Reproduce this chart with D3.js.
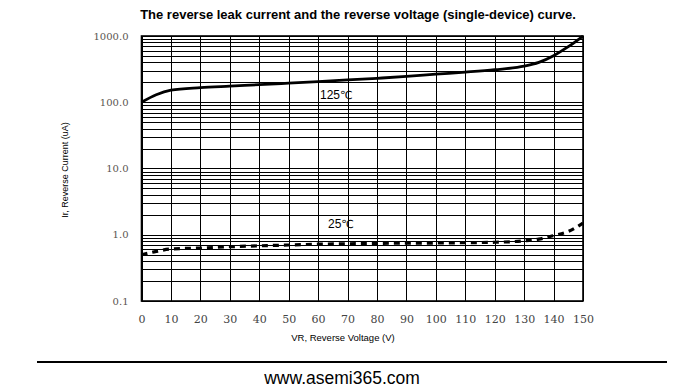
<!DOCTYPE html>
<html>
<head>
<meta charset="utf-8">
<script src="https://cdn.jsdelivr.net/npm/d3@7"></script>
<style>
  html, body { margin: 0; padding: 0; background: #fff; }
  svg { display: block; }
</style>
</head>
<body>
<svg id="chart" width="700" height="388"></svg>
<script>
// Reverse voltage (V) sample points
const voltage125 = [0, 5, 10, 20, 30, 40, 50, 60, 70, 80, 90, 100, 110, 120, 130, 135, 140, 145, 150];
// Reverse current (uA) at 125°C
const current125 = [100, 130, 152, 166, 175, 184, 194, 205, 217, 230, 245, 265, 285, 310, 350, 400, 505, 690, 1000];

const voltage25 = [0, 5, 10, 20, 30, 40, 50, 60, 70, 80, 90, 100, 110, 120, 130, 135, 140, 145, 150];
// Reverse current (uA) at 25°C
const current25 = [0.5, 0.56, 0.61, 0.63, 0.66, 0.68, 0.7, 0.72, 0.73, 0.74, 0.75, 0.75, 0.76, 0.77, 0.81, 0.86, 0.97, 1.12, 1.5];

const xTicks = [0, 10, 20, 30, 40, 50, 60, 70, 80, 90, 100, 110, 120, 130, 140, 150];
const yTicks = [0.1, 1, 10, 100, 1000];
const yTickLabels = ["0.1", "1.0", "10.0", "100.0", "1000.0"];

const svg = d3.select("#chart");
const plotLeft = 141.5, plotRight = 583, plotTop = 36, plotBottom = 301;

const x = d3.scaleLinear().domain([0, 150]).range([plotLeft, plotRight]);
const y = d3.scaleLog().domain([0.1, 1000]).range([plotBottom, plotTop]);

// Title
svg.append("text")
  .attr("x", 358).attr("y", 19)
  .attr("text-anchor", "middle")
  .attr("font-family", "Liberation Sans, Arial, sans-serif")
  .attr("font-weight", "bold")
  .attr("font-size", 13)
  .text("The reverse leak current and the reverse voltage (single-device) curve.");

// Grid: log minor lines and decade lines
const minor = [];
for (let d = 0.1; d < 1000; d *= 10) {
  for (let k = 1; k <= 9; k++) minor.push(+(d * k).toPrecision(3));
}
minor.push(1000);
svg.append("g").selectAll("line").data(minor).join("line")
  .attr("x1", plotLeft).attr("x2", plotRight)
  .attr("y1", d => Math.round(y(d)) + 0.5).attr("y2", d => Math.round(y(d)) + 0.5)
  .attr("stroke", "#000").attr("stroke-width", 1);

svg.append("g").selectAll("line").data(xTicks).join("line")
  .attr("x1", d => Math.round(x(d)) + 0.5).attr("x2", d => Math.round(x(d)) + 0.5)
  .attr("y1", plotTop).attr("y2", plotBottom)
  .attr("stroke", "#000").attr("stroke-width", 1);

// Frame
svg.append("rect")
  .attr("x", plotLeft).attr("y", plotTop)
  .attr("width", plotRight - plotLeft).attr("height", plotBottom - plotTop)
  .attr("fill", "none").attr("stroke", "#000").attr("stroke-width", 1.6);

// Axis tick labels
const xAxis = d3.axisBottom(x).tickValues(xTicks).tickSize(0).tickPadding(14).tickFormat(d3.format("d"));
const gx = svg.append("g").attr("transform", `translate(0,${plotBottom})`).call(xAxis);
gx.select(".domain").remove();
gx.selectAll("text")
  .attr("font-family", "DejaVu Serif, Liberation Serif, serif")
  .attr("font-size", 11).attr("fill", "#444");

const yAxis = d3.axisLeft(y).tickValues(yTicks).tickSize(0).tickPadding(13)
  .tickFormat((d, i) => yTickLabels[i]);
const gy = svg.append("g").attr("transform", `translate(${plotLeft},0)`).call(yAxis);
gy.select(".domain").remove();
gy.selectAll("text")
  .attr("font-family", "DejaVu Serif, Liberation Serif, serif")
  .attr("font-size", 10).attr("fill", "#5a5550");

// Axis titles
svg.append("text")
  .attr("transform", `translate(68,170) rotate(-90)`)
  .attr("text-anchor", "middle")
  .attr("font-family", "Liberation Sans, Arial, sans-serif")
  .attr("font-size", 9)
  .text("Ir, Reverse Current (uA)");

svg.append("text")
  .attr("x", 343).attr("y", 341)
  .attr("text-anchor", "middle")
  .attr("font-family", "Liberation Sans, Arial, sans-serif")
  .attr("font-size", 9.5)
  .text("VR, Reverse Voltage (V)");

// Curves
const line = d3.line().x(d => x(d[0])).y(d => y(d[1])).curve(d3.curveMonotoneX);

svg.append("path")
  .datum(d3.zip(voltage125, current125))
  .attr("d", line)
  .attr("fill", "none").attr("stroke", "#000").attr("stroke-width", 2.8);

svg.append("path")
  .datum(d3.zip(voltage25, current25))
  .attr("d", line)
  .attr("fill", "none").attr("stroke", "#000").attr("stroke-width", 3.2)
  .attr("stroke-dasharray", "6,5");

// Curve labels
function curveLabel(px, py, num) {
  const t = svg.append("text")
    .attr("x", px).attr("y", py)
    .attr("font-family", "Liberation Sans, Arial, sans-serif")
    .attr("font-size", 12);
  t.append("tspan").text(num);
  t.append("tspan").attr("font-size", 11).attr("font-family", "DejaVu Sans, sans-serif").text("℃");
}
curveLabel(320, 99, "125");
curveLabel(328, 228, "25");

// Footer rule and site text
svg.append("line")
  .attr("x1", 37).attr("x2", 667).attr("y1", 362).attr("y2", 362)
  .attr("stroke", "#000").attr("stroke-width", 2);

svg.append("text")
  .attr("x", 342).attr("y", 384)
  .attr("text-anchor", "middle")
  .attr("font-family", "Liberation Sans, Arial, sans-serif")
  .attr("font-size", 17.5)
  .text("www.asemi365.com");
</script>
</body>
</html>
